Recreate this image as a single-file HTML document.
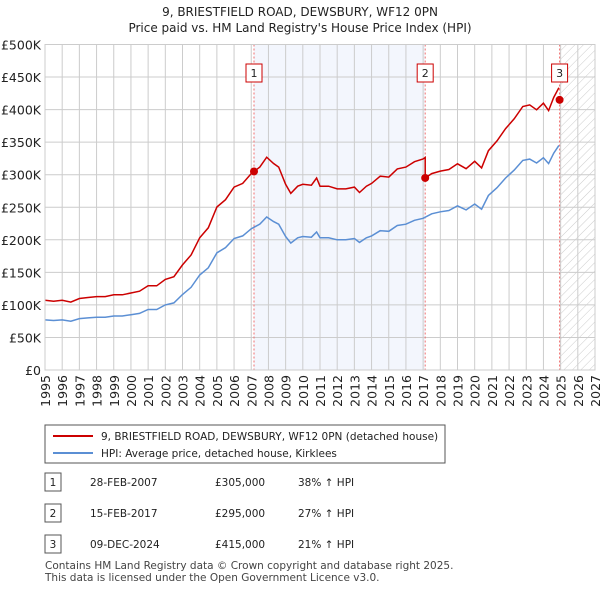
<!DOCTYPE html>
<html><head><meta charset="utf-8"><style>
body{margin:0;background:#fff;font-family:"DejaVu Sans","Liberation Sans",sans-serif;}
svg text{font-family:"DejaVu Sans","Liberation Sans",sans-serif;}
</style></head><body>
<svg id="chart" width="600" height="590" xmlns="http://www.w3.org/2000/svg">
<defs><pattern id="hatch" width="6" height="6" patternUnits="userSpaceOnUse" patternTransform="rotate(45)"><line x1="0" y1="0" x2="0" y2="6" stroke="#ccc" stroke-width="1"/></pattern></defs>
<text x="300" y="16" text-anchor="middle" font-size="12" fill="#222">9, BRIESTFIELD ROAD, DEWSBURY, WF12 0PN</text>
<text x="300" y="32" text-anchor="middle" font-size="12" fill="#222">Price paid vs. HM Land Registry's House Price Index (HPI)</text>
<g id="plot"></g>
<g>
<rect x="45" y="425" width="400" height="38" fill="#fff" stroke="#555"/>
<line x1="53" y1="436" x2="93" y2="436" stroke="#cc0000" stroke-width="2"/>
<text x="101" y="440" font-size="10.5" fill="#222">9, BRIESTFIELD ROAD, DEWSBURY, WF12 0PN (detached house)</text>
<line x1="53" y1="453" x2="93" y2="453" stroke="#5b8fd4" stroke-width="2"/>
<text x="101" y="457" font-size="10.5" fill="#222">HPI: Average price, detached house, Kirklees</text>
</g>
<g id="table" font-size="10.5" fill="#222"></g>
<text x="45" y="569" font-size="10.5" fill="#444">Contains HM Land Registry data © Crown copyright and database right 2025.</text>
<text x="45" y="581" font-size="10.5" fill="#444">This data is licensed under the Open Government Licence v3.0.</text>
</svg>
<script>
const yTicks=[0,50000,100000,150000,200000,250000,300000,350000,400000,450000,500000];
const yTickLabels=["£0","£50K","£100K","£150K","£200K","£250K","£300K","£350K","£400K","£450K","£500K"];
const xYears=[1995,1996,1997,1998,1999,2000,2001,2002,2003,2004,2005,2006,2007,2008,2009,2010,2011,2012,2013,2014,2015,2016,2017,2018,2019,2020,2021,2022,2023,2024,2025,2026,2027];
const hpiTimes=[1995,1995.5,1996,1996.5,1997,1997.5,1998,1998.5,1999,1999.5,2000,2000.5,2001,2001.5,2002,2002.5,2003,2003.5,2004,2004.5,2005,2005.5,2006,2006.5,2007,2007.5,2007.9,2008.3,2008.6,2009,2009.3,2009.7,2010,2010.5,2010.8,2011,2011.5,2012,2012.5,2013,2013.3,2013.7,2014,2014.5,2015,2015.5,2016,2016.5,2017,2017.5,2018,2018.5,2019,2019.5,2020,2020.4,2020.8,2021.3,2021.8,2022.3,2022.8,2023.2,2023.6,2024,2024.3,2024.6,2024.9];
const hpiValues=[77000,76000,77000,75000,79000,80000,81000,81000,83000,83000,85000,87000,93000,93000,100000,103000,116000,127000,146000,157000,180000,188000,202000,206000,217000,224000,235000,228000,224000,205000,195000,203000,205000,204000,212000,203000,203000,200000,200000,202000,196000,203000,206000,214000,213000,222000,224000,230000,233000,240000,243000,245000,252000,246000,255000,247000,268000,280000,295000,307000,322000,324000,318000,326000,317000,333000,345000];
const saleTimes=[2007.16,2017.12,2024.94];
const salePrices=[305000,295000,415000];
const saleLabels=["1","2","3"];
const saleDates=["28-FEB-2007","15-FEB-2017","09-DEC-2024"];
const salePriceText=["£305,000","£295,000","£415,000"];
const saleHpiText=["38% ↑ HPI","27% ↑ HPI","21% ↑ HPI"];

const X0=45,X1=595,Y0=370,Y1=44.5;
const xs=t=>X0+(t-1995)/(2027-1995)*(X1-X0);
const ys=v=>Y0-v/500000*(Y0-Y1);
const NS="http://www.w3.org/2000/svg";
const plot=document.getElementById('plot');
function mk(tag,attrs,parent){const e=document.createElementNS(NS,tag);for(const k in attrs)e.setAttribute(k,attrs[k]);(parent||plot).appendChild(e);return e;}
function hpiAt(t){for(let i=0;i<hpiTimes.length-1;i++){if(t>=hpiTimes[i]&&t<=hpiTimes[i+1]){const f=(t-hpiTimes[i])/(hpiTimes[i+1]-hpiTimes[i]);return hpiValues[i]+f*(hpiValues[i+1]-hpiValues[i]);}}return hpiValues[hpiValues.length-1];}

let r=mk('rect',{x:X0,y:Y1,width:X1-X0,height:Y0-Y1,fill:'#fff'});


r=mk('rect',{x:xs(saleTimes[0]),y:Y1,width:xs(saleTimes[1])-xs(saleTimes[0]),height:Y0-Y1,fill:'#f3f6fd'});


r=mk('rect',{x:xs(2025),y:Y1,width:X1-xs(2025),height:Y0-Y1,fill:'url(#hatch)'});



yTicks.forEach((v,i)=>{
 let l=mk('line',{x1:X0,x2:X1,y1:ys(v),y2:ys(v),stroke:'#ccc'});
 
 
 let t=mk('text',{x:X0-4,y:ys(v)+5,'text-anchor':'end','font-size':12.5,fill:'#222'});
 
 
 t.textContent=yTickLabels[i];
});
xYears.forEach(y=>{
 let l=mk('line',{x1:xs(y),x2:xs(y),y1:Y1,y2:Y0,stroke:'#ccc'});
 
 
 let t=mk('text',{x:0,y:0,'text-anchor':'end','font-size':12.5,fill:'#222',transform:`translate(${xs(y)+5},${Y0+5}) rotate(-90)`});
 
 
 t.textContent=y;
});
saleTimes.forEach((s,i)=>{
 let l=mk('line',{x1:xs(s),x2:xs(s),y1:Y1,y2:Y0,stroke:'#f07070','stroke-dasharray':'2,2'});
 
 
});
let d=hpiTimes.map((t,i)=>(i?'L':'M')+xs(t).toFixed(1)+','+ys(hpiValues[i]).toFixed(1)).join('');
let p=mk('path',{d:d,fill:'none',stroke:'#5b8fd4','stroke-width':1.5});


function factorAt(t){let f=salePrices[0]/hpiAt(saleTimes[0]);for(let i=0;i<saleTimes.length;i++){if(t>=saleTimes[i])f=salePrices[i]/hpiAt(saleTimes[i]);}return f;}
let pts=[];
hpiTimes.forEach((t,i)=>{
 for(let k=0;k<saleTimes.length;k++){const s=saleTimes[k];if(i>0&&hpiTimes[i-1]<s&&t>=s){const f0=factorAt(s-0.001);pts.push([s,hpiAt(s)*f0]);pts.push([s,salePrices[k]]);}}
 pts.push([t,hpiValues[i]*factorAt(t)]);
});
d=pts.map((q,i)=>(i?'L':'M')+xs(q[0]).toFixed(1)+','+ys(q[1]).toFixed(1)).join('');
p=mk('path',{d:d,fill:'none',stroke:'#cc0000','stroke-width':1.5});


saleTimes.forEach((s,i)=>{
 let c=mk('circle',{cx:xs(s),cy:ys(salePrices[i]),r:4,fill:'#cc0000'});
 
 
 let b=mk('rect',{x:xs(s)-8,y:64,width:16,height:18,fill:'#fff',stroke:'#cc0000'});
 
 
 let t=mk('text',{x:xs(s),y:77,'text-anchor':'middle','font-size':11,fill:'#222'});
 
 
 t.textContent=saleLabels[i];
});
r=mk('rect',{x:X0,y:Y1,width:X1-X0,height:Y0-Y1,fill:'none',stroke:'#ccc'});



const tbl=document.getElementById('table');
const rowY=[482,513,544];
saleLabels.forEach((lab,i)=>{
 let b=mk('rect',{x:45,y:rowY[i]-9,width:16,height:18,fill:'#fff',stroke:'#555'},tbl);
 
 
 const cells=[[53,lab,'middle'],[90,saleDates[i],'start'],[215,salePriceText[i],'start'],[298,saleHpiText[i],'start']];
 cells.forEach(c=>{
  let t=mk('text',{x:c[0],y:rowY[i]+4,'text-anchor':c[2]},tbl);
  
  
  t.textContent=c[1];
 });
});
</script>
</body></html>
